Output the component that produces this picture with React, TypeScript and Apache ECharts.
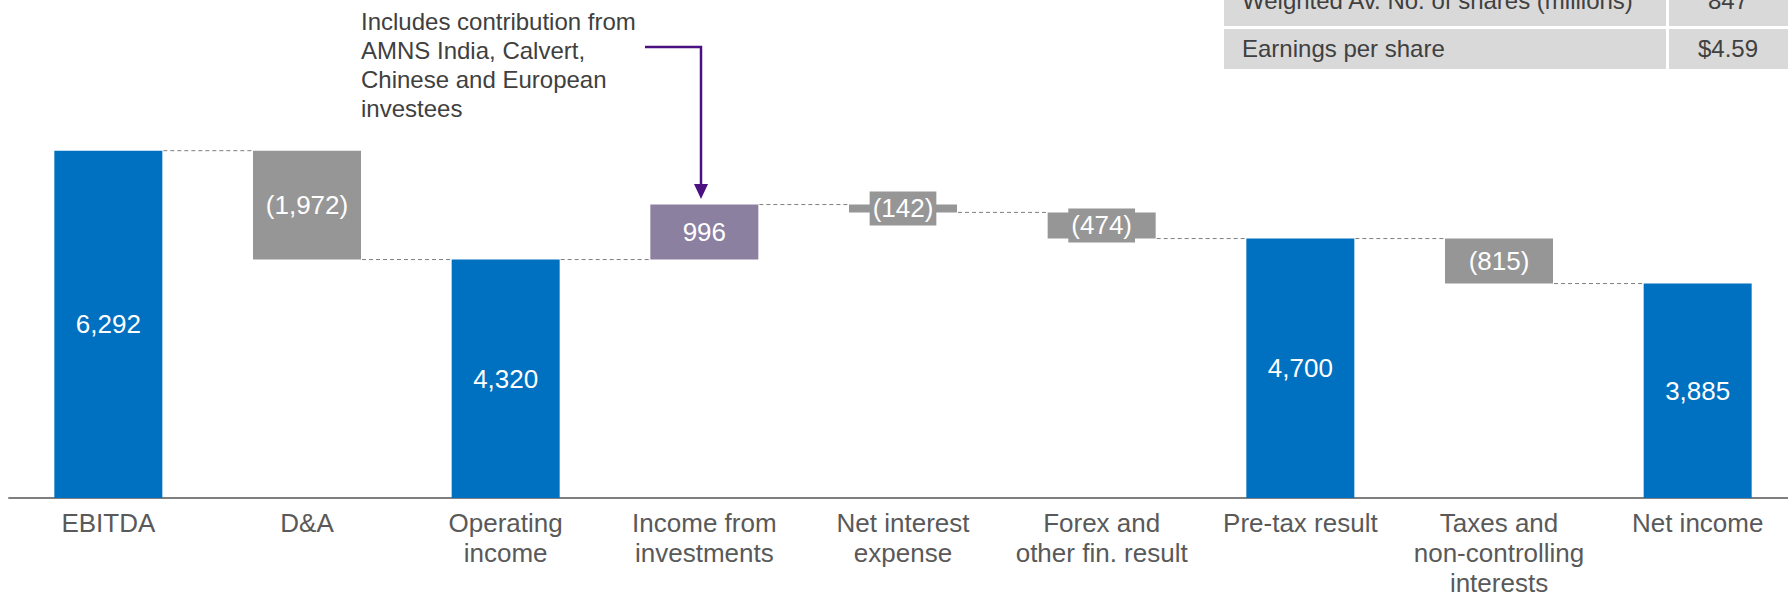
import React, { useEffect, useRef } from "react";
import * as echarts from "echarts";

const categories = [
  "EBITDA",
  "D&A",
  "Operating\nincome",
  "Income from\ninvestments",
  "Net interest\nexpense",
  "Forex and\nother fin. result",
  "Pre-tax result",
  "Taxes and\nnon-controlling\ninterests",
  "Net income",
];
const kinds = ["total", "decrease", "total", "increase", "decrease", "decrease", "total", "decrease", "total"];
const amounts = [6292, 1972, 4320, 996, 142, 474, 4700, 815, 3885];

const annotationLines = [
  "Includes contribution from",
  "AMNS India, Calvert,",
  "Chinese and European",
  "investees",
];
const tableLabels = ["Weighted Av. No. of shares (millions)", "Earnings per share"];
const tableValues = ["847", "$4.59"];

const FONT = "'Liberation Sans', Arial, sans-serif";
const BLUE = "#0070C0";
const GRAY = "#969696";
const PURPLE = "#8C80A1";
const ARROW = "#4B1180";
const BAR_W = 108;

function fmt(n: number) {
  return n.toLocaleString("en-US");
}

export default function App() {
  const ref = useRef<HTMLDivElement>(null);

  useEffect(() => {
    if (!ref.current) return;
    const chart = echarts.init(ref.current, undefined, { renderer: "svg" });

    const base: (number | string)[] = [];
    const totals: (number | string)[] = [];
    const incs: (number | string)[] = [];
    const decs: (number | string)[] = [];
    const levels: number[] = [];
    let level = 0;
    kinds.forEach((k, i) => {
      const a = amounts[i];
      if (k === "total") {
        base.push(0);
        totals.push(a);
        incs.push("-");
        decs.push("-");
        level = a;
      } else if (k === "increase") {
        base.push(level);
        totals.push("-");
        incs.push(a);
        decs.push("-");
        level += a;
      } else {
        level -= a;
        base.push(level);
        totals.push("-");
        incs.push("-");
        decs.push(a);
      }
      levels.push(level);
    });
    const connectors = levels.slice(0, -1).map((l, i) => [i, l]);

    const labelBase = {
      show: true,
      position: "inside",
      color: "#ffffff",
      fontSize: 26,
      fontFamily: FONT,
    };

    const option: any = {
      animation: false,
      grid: { left: 9, right: 0, top: 56.4, bottom: 101, containLabel: false, outerBoundsMode: "none" },
      xAxis: {
        type: "category",
        data: categories,
        axisTick: { show: false },
        axisLine: { lineStyle: { color: "#7f7f7f", width: 2 } },
        axisLabel: {
          interval: 0,
          color: "#595959",
          fontSize: 26,
          lineHeight: 30,
          fontFamily: FONT,
          margin: 10,
        },
      },
      yAxis: {
        type: "value",
        min: 0,
        max: 8000,
        show: false,
        splitLine: { show: false },
      },
      series: [
        {
          name: "base",
          type: "bar",
          stack: "wf",
          barWidth: BAR_W,
          itemStyle: { color: "transparent" },
          silent: true,
          data: base,
        },
        {
          name: "total",
          type: "bar",
          stack: "wf",
          barWidth: BAR_W,
          itemStyle: { color: BLUE },
          label: { ...labelBase, formatter: (p: any) => fmt(p.value) },
          data: totals,
        },
        {
          name: "increase",
          type: "bar",
          stack: "wf",
          barWidth: BAR_W,
          itemStyle: { color: PURPLE },
          label: { ...labelBase, formatter: (p: any) => fmt(p.value) },
          data: incs,
        },
        {
          name: "decrease",
          type: "bar",
          stack: "wf",
          barWidth: BAR_W,
          itemStyle: { color: GRAY },
          label: {
            ...labelBase,
            formatter: (p: any) => "(" + fmt(p.value) + ")",
            backgroundColor: GRAY,
            padding: [4, 3],
            lineHeight: 26,
          },
          data: decs,
        },
        {
          name: "connectors",
          type: "custom",
          silent: true,
          data: connectors,
          renderItem: (params: any, api: any) => {
            const p = api.coord([api.value(0), api.value(1)]);
            const w = api.size([1, 0])[0];
            const half = BAR_W / 2;
            return {
              type: "line",
              shape: { x1: p[0] + half + 1, y1: p[1], x2: p[0] + w - half - 1, y2: p[1] },
              style: { stroke: "#7f7f7f", lineWidth: 1, lineDash: [4, 3] },
            };
          },
        },
      ],
      graphic: [
        {
          type: "text",
          left: 361,
          top: 7,
          style: {
            text: annotationLines.join("\n"),
            fontSize: 24,
            lineHeight: 29,
            fontFamily: FONT,
            fill: "#404040",
          },
        },
        {
          type: "polyline",
          shape: { points: [[645, 47], [701, 47], [701, 186]] },
          style: { stroke: ARROW, lineWidth: 2.5, fill: null },
        },
        {
          type: "polygon",
          shape: { points: [[694, 184], [708, 184], [701, 199]] },
          style: { fill: ARROW },
        },
        { type: "rect", shape: { x: 1224, y: -14, width: 442, height: 40 }, style: { fill: "#D9D9D9" } },
        { type: "rect", shape: { x: 1669, y: -14, width: 119, height: 40 }, style: { fill: "#D9D9D9" } },
        { type: "rect", shape: { x: 1224, y: 29, width: 442, height: 40 }, style: { fill: "#D9D9D9" } },
        { type: "rect", shape: { x: 1669, y: 29, width: 119, height: 40 }, style: { fill: "#D9D9D9" } },
        {
          type: "text",
          x: 1242,
          y: 0,
          style: { text: tableLabels[0], fontSize: 24, fontFamily: FONT, fill: "#404040", verticalAlign: "middle" },
        },
        {
          type: "text",
          x: 1728,
          y: 0,
          style: { text: tableValues[0], fontSize: 24, fontFamily: FONT, fill: "#404040", verticalAlign: "middle", align: "center" },
        },
        {
          type: "text",
          x: 1242,
          y: 48,
          style: { text: tableLabels[1], fontSize: 24, fontFamily: FONT, fill: "#404040", verticalAlign: "middle" },
        },
        {
          type: "text",
          x: 1728,
          y: 48,
          style: { text: tableValues[1], fontSize: 24, fontFamily: FONT, fill: "#404040", verticalAlign: "middle", align: "center" },
        },
      ],
    };

    chart.setOption(option);
    return () => chart.dispose();
  }, []);

  return (
    <div
      style={{ position: "absolute", left: 0, top: 0, width: 1788, height: 599, overflow: "hidden", background: "#ffffff" }}
    >
      <div ref={ref} style={{ width: 1797, height: 599 }} />
    </div>
  );
}
